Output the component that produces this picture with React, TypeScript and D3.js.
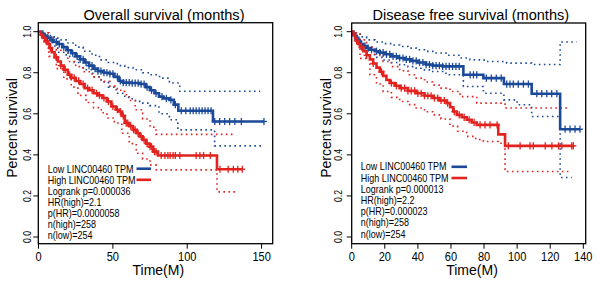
import React from 'react';
import * as d3 from 'd3';

// ---------------- Data ----------------
// Overall survival, Low LINC00460 (blue)
const osLowTime = [0, 2, 4, 6, 8, 10, 13, 16, 19, 22, 25, 28, 31, 34, 37, 40, 44, 48, 51, 54, 57, 62, 68, 72, 75, 78, 81, 84, 88, 91, 94, 117.3];
const osLowSurv = [1, 0.99, 0.98, 0.97, 0.96, 0.95, 0.94, 0.925, 0.91, 0.895, 0.88, 0.865, 0.85, 0.835, 0.82, 0.808, 0.8, 0.795, 0.78, 0.76, 0.752, 0.75, 0.745, 0.73, 0.715, 0.7, 0.684, 0.675, 0.668, 0.645, 0.615, 0.5625];
const osLowEnd = 151.6;
const osLowCensor = [3, 6, 9, 12, 14, 17, 20, 23, 26, 28, 30, 32, 34, 36, 38, 40, 42, 44, 46, 48, 50, 53, 55, 57, 59, 61, 63, 65, 67, 69, 71, 73, 76, 79, 83, 86, 89, 92, 96, 99, 102, 104, 106, 108, 110, 112, 114, 116, 118.5, 121.8, 125.2, 128.5, 132, 136.4, 151.6];
const osLowUpperTime = [0, 3, 8, 13, 18.6, 25, 30, 36, 41, 47, 53, 58, 63.5, 70, 75, 81.4, 88, 95];
const osLowUpperSurv = [1, 0.995, 0.975, 0.96, 0.945, 0.925, 0.905, 0.885, 0.863, 0.85, 0.835, 0.825, 0.815, 0.8, 0.79, 0.774, 0.75, 0.71];
const osLowUpperEnd = 149;
const osLowLowerTime = [0, 3, 8, 13, 18.6, 24, 30, 36.5, 42, 47, 52.3, 58, 63, 68, 74.7, 81, 88, 93.7, 118.4];
const osLowLowerSurv = [1, 0.97, 0.93, 0.9, 0.88, 0.85, 0.815, 0.78, 0.755, 0.73, 0.7, 0.68, 0.665, 0.652, 0.64, 0.6, 0.571, 0.522, 0.444];
const osLowLowerEnd = 150;

// Overall survival, High LINC00460 (red)
const osHighTime = [0, 1.5, 3, 4.5, 6, 7.5, 9, 10.8, 13, 15, 17, 19.7, 22, 25, 28, 31, 34, 37, 40, 43, 46, 49, 52, 54, 56, 58, 61, 63.5, 66, 68, 70, 72.5, 74.7, 77, 80.3, 120];
const osHighSurv = [1, 0.985, 0.97, 0.955, 0.94, 0.92, 0.9, 0.875, 0.855, 0.835, 0.815, 0.79, 0.775, 0.76, 0.745, 0.725, 0.715, 0.7, 0.69, 0.677, 0.66, 0.636, 0.62, 0.611, 0.59, 0.555, 0.54, 0.522, 0.505, 0.49, 0.473, 0.455, 0.44, 0.416, 0.397, 0.33];
const osHighEnd = 137;
const osHighCensor = [2, 5, 8, 12, 15, 18, 21, 24, 27, 30, 33, 36, 39, 41, 44, 47, 50, 53, 55, 57, 59, 60, 62, 64, 65, 67, 69, 71, 73, 75, 76, 78, 79, 82.5, 85, 87, 88.5, 90.5, 92, 95, 106, 108.5, 111, 115.5, 122, 127.5, 131, 134, 137];
const osHighUpperTime = [0, 3, 7, 12, 19.7, 25, 30, 36, 42.2, 48, 53, 57.9, 61, 65, 70, 75, 79];
const osHighUpperSurv = [1, 0.995, 0.97, 0.91, 0.855, 0.83, 0.805, 0.78, 0.758, 0.735, 0.715, 0.693, 0.665, 0.62, 0.575, 0.535, 0.5];
const osHighUpperEnd = 132;
const osHighLowerTime = [0, 3, 7, 12, 17, 22, 26.5, 32, 37, 42.2, 46, 51, 56, 61, 65.7, 70, 75, 79.2, 120];
const osHighLowerSurv = [1, 0.95, 0.88, 0.82, 0.77, 0.73, 0.69, 0.655, 0.63, 0.605, 0.58, 0.555, 0.505, 0.455, 0.408, 0.38, 0.35, 0.327, 0.22];
const osHighLowerEnd = 133;

// Disease free survival, Low LINC00460 (blue)
const dfsLowTime = [0, 1, 2, 3, 4, 5, 7, 9, 11, 14, 17, 20, 24, 28, 32, 36, 40, 45, 49, 55, 67.5, 79.6, 92, 108.8, 126];
const dfsLowSurv = [1, 0.99, 0.98, 0.97, 0.955, 0.94, 0.93, 0.92, 0.912, 0.905, 0.898, 0.89, 0.88, 0.872, 0.865, 0.858, 0.85, 0.84, 0.835, 0.831, 0.79, 0.774, 0.745, 0.698, 0.525];
const dfsLowEnd = 138;
const dfsLowCensor = [2, 4, 6, 8, 10, 12, 15, 17, 19, 21, 23, 25, 27, 29, 31, 33, 35, 37, 39, 41, 43, 45, 47, 49, 51, 53, 55, 57, 59, 61, 63, 65, 71.6, 73.6, 75.6, 81.4, 84.4, 87.4, 90.4, 93.7, 95.7, 97.7, 100.7, 103.8, 106.8, 111.9, 114.9, 117.9, 120.9, 124, 129, 132, 135, 138];
const dfsLowUpperTime = [0, 2, 5, 9, 14, 19, 24, 29, 34, 39, 44, 49, 57, 65.5, 71.5, 80, 93.7, 108.8, 126];
const dfsLowUpperSurv = [1, 0.99, 0.975, 0.96, 0.95, 0.942, 0.935, 0.928, 0.92, 0.912, 0.904, 0.896, 0.885, 0.872, 0.863, 0.855, 0.847, 0.84, 0.95];
const dfsLowUpperEnd = 136;
const dfsLowLowerTime = [0, 2, 5, 9, 14, 19, 24, 29, 34, 39, 44, 49, 57, 67.5, 79.6, 92, 100, 108.8, 126];
const dfsLowLowerSurv = [1, 0.96, 0.92, 0.888, 0.875, 0.862, 0.85, 0.839, 0.83, 0.822, 0.814, 0.806, 0.79, 0.733, 0.7, 0.668, 0.644, 0.587, 0.29];
const dfsLowLowerEnd = 133;

// Disease free survival, High LINC00460 (red)
const dfsHighTime = [0, 1, 2, 3, 4, 5, 7, 9, 11, 13, 15, 17, 19, 21, 23, 26, 29, 34, 39, 44, 49, 53, 57.4, 59.5, 61.4, 63.5, 66.5, 69.5, 72.5, 75.6, 88.6, 92.7];
const dfsHighSurv = [1, 0.985, 0.97, 0.955, 0.94, 0.925, 0.905, 0.885, 0.865, 0.845, 0.825, 0.805, 0.785, 0.765, 0.75, 0.737, 0.725, 0.712, 0.7, 0.688, 0.677, 0.665, 0.652, 0.632, 0.611, 0.595, 0.583, 0.571, 0.558, 0.546, 0.5, 0.444];
const dfsHighEnd = 134;
const dfsHighCensor = [3, 6, 9, 13, 18, 24, 27, 30, 32, 34, 36, 38, 40, 42, 44, 46, 48, 50, 52, 54, 56, 58, 62, 65, 68, 71, 74, 77.6, 80.6, 83.6, 87.9, 94.7, 101.8, 107.8, 109.8, 117, 121, 125, 127, 133, 134];
const dfsHighUpperTime = [0, 2, 5, 9, 14, 19, 24, 29, 34, 39, 44, 49, 54, 59.4, 65.5, 75.6, 92.7];
const dfsHighUpperSurv = [1, 0.995, 0.96, 0.925, 0.89, 0.855, 0.83, 0.81, 0.79, 0.774, 0.755, 0.74, 0.725, 0.709, 0.684, 0.652, 0.628];
const dfsHighUpperEnd = 132;
const dfsHighLowerTime = [0, 2, 5, 11, 15, 19, 24, 29, 34, 39, 44, 49, 54, 59.4, 64, 69.5, 75, 79.6, 88.6, 92.7];
const dfsHighLowerSurv = [1, 0.95, 0.87, 0.79, 0.745, 0.709, 0.68, 0.66, 0.645, 0.628, 0.61, 0.595, 0.575, 0.54, 0.515, 0.49, 0.475, 0.465, 0.457, 0.319];
const dfsHighLowerEnd = 131;

// Text
const osTitle = 'Overall survival (months)';
const dfsTitle = 'Disease free survival (months)';
const osLegend = ['Low LINC00460 TPM', 'High LINC00460 TPM', 'Logrank p=0.000036', 'HR(high)=2.1', 'p(HR)=0.0000058', 'n(high)=258', 'n(low)=254'];
const dfsLegend = ['Low LINC00460 TPM', 'High LINC00460 TPM', 'Logrank p=0.000013', 'HR(high)=2.2', 'p(HR)=0.000023', 'n(high)=258', 'n(low)=254'];
const osXTicks = [0, 50, 100, 150];
const dfsXTicks = [0, 20, 40, 60, 80, 100, 120, 140];
const yTicks = [0, 0.2, 0.4, 0.6, 0.8, 1.0];

// ---------------- Drawing ----------------
const BLUE = '#1C4A99';
const RED = '#E2231F';
const FONT = "'Liberation Sans', Arial, Helvetica, sans-serif";

type Curve = { time: number[]; surv: number[]; end: number };
const mk = (time: number[], surv: number[], end: number): Curve => ({ time, surv, end });

function survAt(c: Curve, t: number) {
  let s = c.surv[0];
  for (let i = 0; i < c.time.length; i++) if (c.time[i] <= t) s = c.surv[i];
  return s;
}

function Txt(props: { x: number; y: number; size: number; sx?: number; rot?: number; anchor?: string; fill?: string; children: any }) {
  const { x, y, size, sx = 1, rot = 0, anchor = 'start', fill = '#000', children } = props;
  return (
    <text transform={`translate(${x},${y}) rotate(${rot}) scale(${sx},1)`} fontSize={size} textAnchor={anchor as any} fill={fill} fontFamily={FONT}>
      {children}
    </text>
  );
}

type PanelCfg = {
  boxL: number; boxR: number; boxT: number; boxB: number;
  xDomain: [number, number]; xRange: [number, number]; xTicks: number[];
  title: string; titleX: number; titleLen: number;
  yLabelX: number; yTickX: number; timeX: number;
  legend: string[]; legendX: number; legendY0: number; legendDy: number; legendLine: [number, number]; legendLineOff: number;
  low: Curve; high: Curve; lowCI: Curve[]; highCI: Curve[]; lowCensor: number[]; highCensor: number[];
};

function Panel({ c }: { c: PanelCfg }) {
  const xs = d3.scaleLinear().domain(c.xDomain).range(c.xRange);
  const ys = d3.scaleLinear().domain([0, 1]).range([237, 31.7]);
  const step = (cv: Curve) => {
    const pts: [number, number][] = cv.time.map((t, i) => [t, cv.surv[i]]);
    pts.push([cv.end, cv.surv[cv.surv.length - 1]]);
    return d3.line<[number, number]>().curve(d3.curveStepAfter).x(d => xs(d[0])).y(d => ys(d[1]))(pts) || '';
  };
  const marks = (cv: Curve, cens: number[], color: string) =>
    cens.map((t, i) => {
      const x = xs(t), y = ys(survAt(cv, t));
      return (
        <g key={i} stroke={color} strokeWidth={1.3}>
          <line x1={x} x2={x} y1={y - 3.6} y2={y + 3.6} />
          <line x1={x - 3} x2={x + 3} y1={y} y2={y} />
        </g>
      );
    });
  const midY = 128;
  return (
    <g>
      {/* confidence intervals */}
      {c.lowCI.map((cv, i) => (
        <path key={'lc' + i} d={step(cv)} fill="none" stroke={BLUE} strokeWidth={1.6} strokeDasharray="1.6 3.4" />
      ))}
      {c.highCI.map((cv, i) => (
        <path key={'hc' + i} d={step(cv)} fill="none" stroke={RED} strokeWidth={1.6} strokeDasharray="1.6 3.4" />
      ))}
      {/* curves */}
      <path d={step(c.low)} fill="none" stroke={BLUE} strokeWidth={2.6} />
      {marks(c.low, c.lowCensor, BLUE)}
      <path d={step(c.high)} fill="none" stroke={RED} strokeWidth={2.6} />
      {marks(c.high, c.highCensor, RED)}
      {/* box */}
      <rect x={c.boxL} y={c.boxT} width={c.boxR - c.boxL} height={c.boxB - c.boxT} fill="none" stroke="#000" strokeWidth={1.3} />
      {/* x axis */}
      {c.xTicks.map(t => (
        <g key={'xt' + t}>
          <line x1={xs(t)} x2={xs(t)} y1={c.boxB} y2={c.boxB + 5} stroke="#000" strokeWidth={1} />
          <Txt x={xs(t)} y={261.3} size={12} sx={0.92} anchor="middle">{String(t)}</Txt>
        </g>
      ))}
      {/* y axis */}
      {yTicks.map(v => (
        <g key={'yt' + v}>
          <line x1={c.boxL - 5} x2={c.boxL} y1={ys(v)} y2={ys(v)} stroke="#000" strokeWidth={1} />
          <Txt x={c.yTickX} y={ys(v)} size={10.5} sx={0.82} rot={-90} anchor="middle">{v.toFixed(1)}</Txt>
        </g>
      ))}
      {/* labels */}
      <Txt x={c.titleX} y={20} size={15.5} sx={0.94} anchor="middle">{c.title}</Txt>
      <Txt x={c.yLabelX} y={midY} size={14} rot={-90} anchor="middle">Percent survival</Txt>
      <Txt x={c.timeX} y={274.5} size={14} anchor="middle">Time(M)</Txt>
      {/* legend */}
      {c.legend.map((s, i) => (
        <Txt key={'lg' + i} x={c.legendX} y={c.legendY0 + i * c.legendDy} size={10} sx={0.9}>{s}</Txt>
      ))}
      <line x1={c.legendLine[0]} x2={c.legendLine[1]} y1={c.legendY0 - c.legendLineOff} y2={c.legendY0 - c.legendLineOff} stroke={BLUE} strokeWidth={2.6} />
      <line x1={c.legendLine[0]} x2={c.legendLine[1]} y1={c.legendY0 + c.legendDy - c.legendLineOff} y2={c.legendY0 + c.legendDy - c.legendLineOff} stroke={RED} strokeWidth={2.6} />
    </g>
  );
}

export default function App() {
  const left: PanelCfg = {
    boxL: 38.3, boxR: 272.7, boxT: 22.7, boxB: 243.7,
    xDomain: [0, 150], xRange: [38.5, 261.6], xTicks: osXTicks,
    title: osTitle, titleX: 164, titleLen: 162,
    yLabelX: 16.5, yTickX: 30.7, timeX: 158.3,
    legend: osLegend, legendX: 47.7, legendY0: 172.7, legendDy: 11.1, legendLine: [136.5, 151], legendLineOff: 4,
    low: mk(osLowTime, osLowSurv, osLowEnd),
    high: mk(osHighTime, osHighSurv, osHighEnd),
    lowCI: [mk(osLowUpperTime, osLowUpperSurv, osLowUpperEnd), mk(osLowLowerTime, osLowLowerSurv, osLowLowerEnd)],
    highCI: [mk(osHighUpperTime, osHighUpperSurv, osHighUpperEnd), mk(osHighLowerTime, osHighLowerSurv, osHighLowerEnd)],
    lowCensor: osLowCensor, highCensor: osHighCensor,
  };
  const right: PanelCfg = {
    boxL: 351.7, boxR: 585.7, boxT: 23, boxB: 243.7,
    xDomain: [0, 140], xRange: [351.7, 583.3], xTicks: dfsXTicks,
    title: dfsTitle, titleX: 470.8, titleLen: 195,
    yLabelX: 330.5, yTickX: 341.7, timeX: 472,
    legend: dfsLegend, legendX: 360.7, legendY0: 170.3, legendDy: 11.2, legendLine: [451.5, 467], legendLineOff: 3.5,
    low: mk(dfsLowTime, dfsLowSurv, dfsLowEnd),
    high: mk(dfsHighTime, dfsHighSurv, dfsHighEnd),
    lowCI: [mk(dfsLowUpperTime, dfsLowUpperSurv, dfsLowUpperEnd), mk(dfsLowLowerTime, dfsLowLowerSurv, dfsLowLowerEnd)],
    highCI: [mk(dfsHighUpperTime, dfsHighUpperSurv, dfsHighUpperEnd), mk(dfsHighLowerTime, dfsHighLowerSurv, dfsHighLowerEnd)],
    lowCensor: dfsLowCensor, highCensor: dfsHighCensor,
  };
  return (
    <svg width={600} height={284} viewBox="0 0 600 284" style={{ position: 'absolute', left: 0, top: 0, background: '#fff' }}>
      <rect x={0} y={0} width={600} height={284} fill="#fff" />
      <Panel c={left} />
      <Panel c={right} />
    </svg>
  );
}
